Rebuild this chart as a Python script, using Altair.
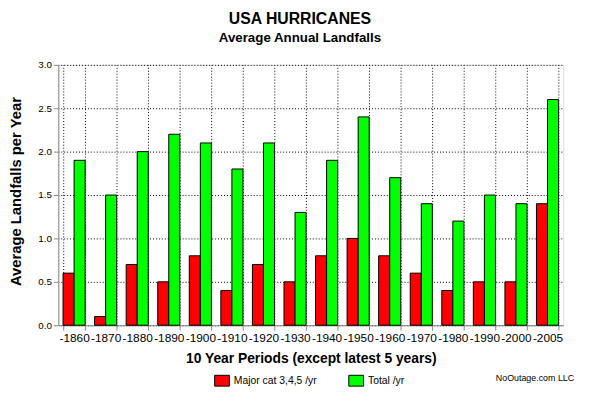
import altair as alt
import pandas as pd

periods = ["-1860", "-1870", "-1880", "-1890", "-1900", "-1910", "-1920", "-1930",
           "-1940", "-1950", "-1960", "-1970", "-1980", "-1990", "-2000", "-2005"]
major = [0.6, 0.1, 0.7, 0.5, 0.8, 0.4, 0.7, 0.5, 0.8, 1.0, 0.8, 0.6, 0.4, 0.5, 0.5, 1.4]
total = [1.9, 1.5, 2.0, 2.2, 2.1, 1.8, 2.1, 1.3, 1.9, 2.4, 1.7, 1.4, 1.2, 1.5, 1.4, 2.6]
series = ["Major cat 3,4,5 /yr", "Total /yr"]
colors = ["#FF0000", "#00FF00"]

rows = []
for p, m, t in zip(periods, major, total):
    rows.append({"period": p, "series": series[0], "value": m})
    rows.append({"period": p, "series": series[1], "value": t})
df = pd.DataFrame(rows)

FONT = "Liberation Sans"
grid_style = dict(grid=True, gridColor="#000000", gridDash=[1, 2], gridDashOffset=0.5,
                  gridOpacity=1, gridWidth=1)

bars = alt.Chart(df).mark_bar(stroke="black", strokeWidth=1).encode(
    x=alt.X("period:N", sort=periods,
            scale=alt.Scale(paddingInner=0.3, paddingOuter=0.15),
            axis=alt.Axis(title="10 Year Periods (except latest 5 years)", labelAngle=0,
                          tickBand="extent", labelOverlap=False,
                          labelFontSize=12, titleFontSize=14, titlePadding=9, **grid_style)),
    xOffset=alt.XOffset("series:N", sort=series, scale=alt.Scale(paddingInner=0, paddingOuter=0)),
    y=alt.Y("value:Q", scale=alt.Scale(domain=[0, 3]),
            axis=alt.Axis(title="Average Landfalls per Year", values=[0, 0.5, 1, 1.5, 2, 2.5, 3],
                          format=".1f", titlePadding=14, titleFontSize=15,
                          titleY=128, **grid_style)),
    color=alt.Color("series:N", sort=series,
                    scale=alt.Scale(domain=series, range=colors),
                    legend=alt.Legend(title=None, orient="none", direction="horizontal",
                                      legendX=160, legendY=314, padding=0,
                                      symbolType="M-1.36,-1H1.36V1H-1.36Z", symbolSize=121,
                                      symbolStrokeColor="black", symbolStrokeWidth=1,
                                      symbolOpacity=1, labelFontSize=10.5, labelFont=FONT,
                                      labelColor="black", columnPadding=29, symbolOffset=0,
                                      labelOffset=6)),
)

footer = alt.Chart(pd.DataFrame({"t": ["NoOutage.com LLC"]})).mark_text(
    align="right", baseline="alphabetic", fontSize=9, font=FONT, color="black"
).encode(text="t:N", x=alt.value(523), y=alt.value(321))

chart = alt.layer(bars, footer).properties(
    width=512, height=264,
    autosize=alt.AutoSizeParams(type="none"),
    padding={"left": 51, "top": 55, "right": 22, "bottom": 60},
    title=alt.TitleParams("USA HURRICANES", subtitle="Average Annual Landfalls",
                          fontSize=16, subtitleFontSize=13.5, subtitleFontWeight="bold",
                          font=FONT, subtitleFont=FONT, color="black", subtitleColor="black",
                          anchor="middle", offset=16, subtitlePadding=4, dx=-11),
).configure_view(stroke=None).configure_axis(
    domainColor="black", tickColor="black", tickSize=4,
    labelFont=FONT, labelFontSize=11, labelColor="black", labelPadding=2,
    titleFont=FONT, titleFontWeight="bold", titleColor="black",
).configure(background="white")

chart.save("out.html", embed_options={"renderer": "svg", "actions": False})
